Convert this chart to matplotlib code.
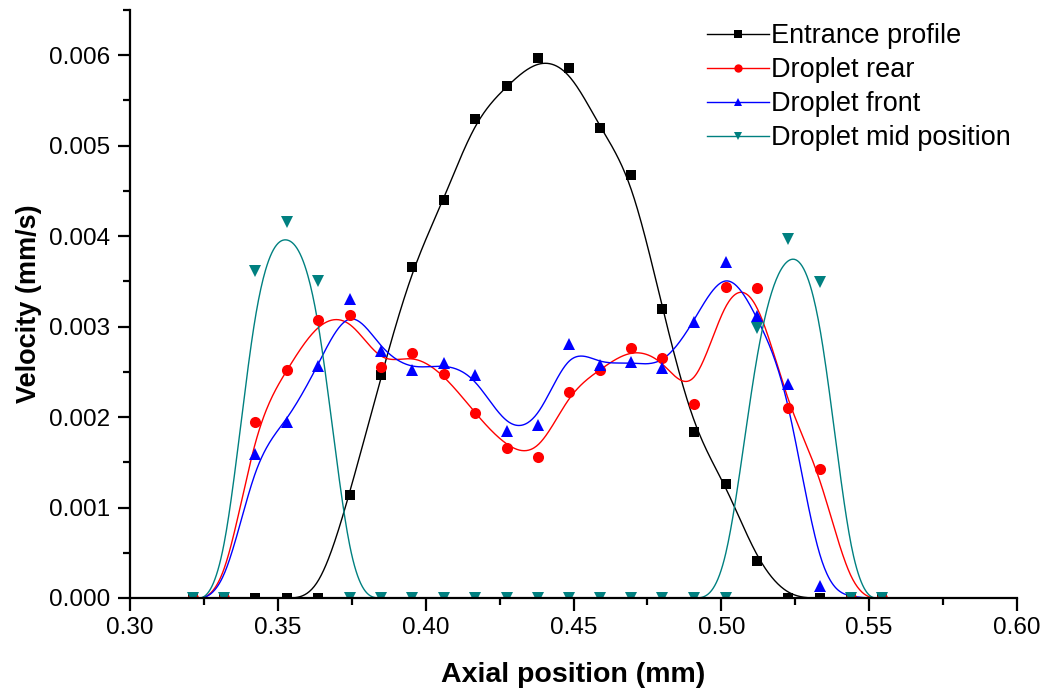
import numpy as np
import matplotlib
matplotlib.use("Agg")
import matplotlib.pyplot as plt
from matplotlib.ticker import MultipleLocator, FormatStrFormatter

plt.rcParams['font.family'] = ['Liberation Sans', 'DejaVu Sans']

# Axial sampling positions (mm)
axial_pos = [0.3213, 0.3318, 0.3424, 0.3530, 0.3636, 0.3743, 0.3850, 0.3955,
             0.4062, 0.4167, 0.4275, 0.4380, 0.4485, 0.4590, 0.4695, 0.4801,
             0.4907, 0.5016, 0.5120, 0.5225, 0.5333, 0.5440, 0.5544]

# Velocity (mm/s) for each profile
entrance_profile = [0, 0, 0, 0, 0, 1.141e-3, 2.464e-3, 3.661e-3,
                    4.402e-3, 5.297e-3, 5.661e-3, 5.968e-3, 5.862e-3, 5.191e-3, 4.678e-3, 3.193e-3,
                    1.838e-3, 1.256e-3, 0.409e-3, 0, 0, 0, 0]
droplet_rear = [0, 0, 1.941e-3, 2.516e-3, 3.068e-3, 3.131e-3, 2.552e-3, 2.707e-3,
                2.475e-3, 2.042e-3, 1.655e-3, 1.557e-3, 2.279e-3, 2.524e-3, 2.764e-3, 2.650e-3,
                2.140e-3, 3.440e-3, 3.429e-3, 2.096e-3, 1.425e-3, 0, 0]
droplet_front = [0, 0, 1.588e-3, 1.941e-3, 2.567e-3, 3.300e-3, 2.729e-3, 2.516e-3,
                 2.594e-3, 2.468e-3, 1.845e-3, 1.916e-3, 2.803e-3, 2.575e-3, 2.614e-3, 2.546e-3,
                 3.046e-3, 3.716e-3, 3.119e-3, 2.365e-3, 0.136e-3, 0, 0]
droplet_mid = [0, 0, 3.613e-3, 4.158e-3, 3.503e-3, 0, 0, 0,
               0, 0, 0, 0, 0, 0, 0, 0,
               0, 0, 2.980e-3, 3.970e-3, 3.488e-3, 0, 0]

labels = ["Entrance profile", "Droplet rear", "Droplet front", "Droplet mid position"]
colors = ["black", "#ff0000", "#0000ff", "#008080"]
markers = ["s", "o", "^", "v"]
marker_sizes = [7.0, 8.0, 9.0, 9.0]
series = [entrance_profile, droplet_rear, droplet_front, droplet_mid]


def bspline(xs, ys, n=40):
    """Clamped uniform cubic B-spline using the samples as control points."""
    px = np.concatenate([[xs[0]] * 2, xs, [xs[-1]] * 2])
    py = np.concatenate([[ys[0]] * 2, ys, [ys[-1]] * 2])
    t = np.linspace(0, 1, n, endpoint=False)
    b0 = (1 - t) ** 3 / 6
    b1 = (3 * t ** 3 - 6 * t ** 2 + 4) / 6
    b2 = (-3 * t ** 3 + 3 * t ** 2 + 3 * t + 1) / 6
    b3 = t ** 3 / 6
    cx, cy = [], []
    for i in range(len(px) - 3):
        cx.append(b0 * px[i] + b1 * px[i + 1] + b2 * px[i + 2] + b3 * px[i + 3])
        cy.append(b0 * py[i] + b1 * py[i + 1] + b2 * py[i + 2] + b3 * py[i + 3])
    cx.append([xs[-1]])
    cy.append([ys[-1]])
    return np.concatenate(cx), np.concatenate(cy)


fig = plt.figure(figsize=(10.47, 6.91), dpi=100)
ax = fig.add_axes([130 / 1047, 93 / 691, (1017 - 130) / 1047, (598 - 10) / 691])

x = np.array(axial_pos)
for ys, col, mk, ms in zip(series, colors, markers, marker_sizes):
    ys = np.array(ys)
    sx, sy = bspline(x, ys)
    ax.plot(sx, sy, color=col, lw=1.0, zorder=2)
    ax.plot(x, ys, linestyle="none", marker=mk, color=col, markersize=ms,
            markeredgewidth=0, zorder=3)

ax.set_xlim(0.30, 0.60)
ax.set_ylim(0.0, 0.0065)
ax.xaxis.set_major_locator(MultipleLocator(0.05))
ax.xaxis.set_minor_locator(MultipleLocator(0.025))
ax.yaxis.set_major_locator(MultipleLocator(0.001))
ax.yaxis.set_minor_locator(MultipleLocator(0.0005))
ax.xaxis.set_major_formatter(FormatStrFormatter("%.2f"))
ax.yaxis.set_major_formatter(FormatStrFormatter("%.3f"))

for side in ("top", "right"):
    ax.spines[side].set_visible(False)
for side in ("left", "bottom"):
    ax.spines[side].set_linewidth(1.6)
    ax.spines[side].set_zorder(4)

ax.tick_params(which="major", direction="out", length=9, width=1.6, labelsize=17.5, pad=5)
ax.tick_params(which="minor", direction="out", length=5, width=1.6)

ax.set_xlabel("Axial position (mm)", fontsize=20.5, fontweight="bold", labelpad=16)
ax.set_ylabel("Velocity (mm/s)", fontsize=19.5, fontweight="bold", labelpad=5)

handles = [plt.Line2D([], [], color=c, lw=1.0, marker=m, markersize=6, markeredgewidth=0)
           for c, m in zip(colors, markers)]
ax.legend(handles, labels, loc="upper left", bbox_to_anchor=(707 / 1047, 1 - 23 / 691),
          bbox_transform=fig.transFigure, frameon=False, fontsize=19.5,
          handlelength=2.3, handletextpad=0.08, labelspacing=0.3, borderpad=0,
          borderaxespad=0)

fig.savefig("out.png", dpi=100)
